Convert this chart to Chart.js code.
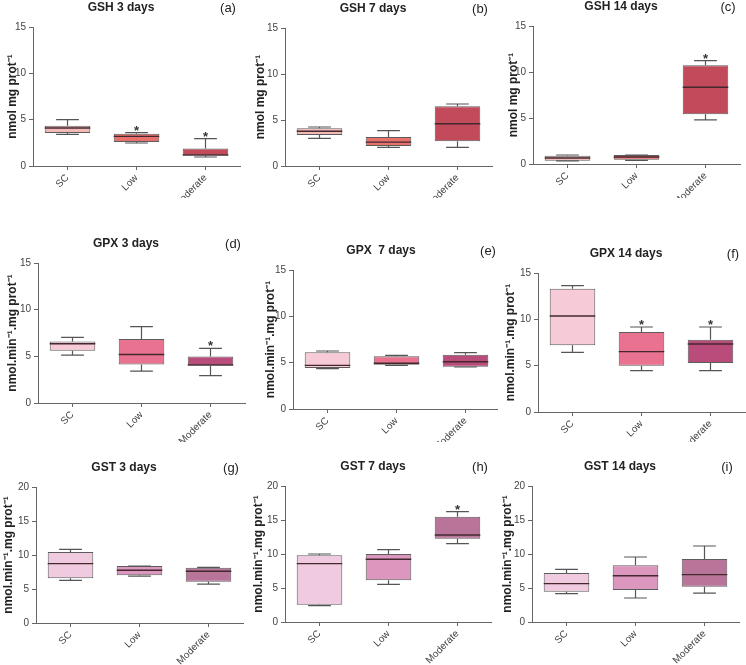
<!DOCTYPE html>
<html>
<head>
<meta charset="utf-8">
<script src="https://cdn.jsdelivr.net/npm/chart.js@4.4.1/dist/chart.umd.min.js"></script>
<style>
  body { margin: 0; background: #fff; width: 746px; height: 665px; overflow: hidden; position: relative; }
  canvas { position: absolute; background: #fff; }
</style>
</head>
<body>
<script>
const groups = ['SC', 'Low', 'Moderate'];

// GSH
const gsh3Min = [3.42, 2.48, 0.97];
const gsh3Q1  = [3.56, 2.59, 1.10];
const gsh3Med = [4.10, 3.20, 1.20];
const gsh3Q3  = [4.35, 3.49, 1.90];
const gsh3Max = [5.00, 3.60, 2.95];
const gsh3Sig = [false, true, true];

const gsh7Min = [3.00, 2.03, 2.03];
const gsh7Q1  = [3.37, 2.17, 2.68];
const gsh7Med = [3.77, 2.60, 4.60];
const gsh7Q3  = [4.09, 3.15, 6.49];
const gsh7Max = [4.24, 3.84, 6.74];
const gsh7Sig = [false, false, false];

const gsh14Min = [0.33, 0.40, 4.80];
const gsh14Q1  = [0.36, 0.47, 5.42];
const gsh14Med = [0.65, 0.76, 8.35];
const gsh14Q3  = [0.90, 0.98, 10.73];
const gsh14Max = [0.98, 0.98, 11.24];
const gsh14Sig = [false, false, true];

// GPX
const gpx3Min = [5.13, 3.41, 2.94];
const gpx3Q1  = [5.60, 4.13, 3.98];
const gpx3Med = [6.35, 5.20, 4.09];
const gpx3Q3  = [6.60, 6.85, 4.99];
const gpx3Max = [7.03, 8.18, 5.85];
const gpx3Sig = [false, false, true];

const gpx7Min = [4.35, 4.71, 4.53];
const gpx7Q1  = [4.42, 4.78, 4.57];
const gpx7Med = [4.71, 4.93, 5.10];
const gpx7Q3  = [6.12, 5.68, 5.86];
const gpx7Max = [6.26, 5.79, 6.08];
const gpx7Sig = [false, false, false];

const gpx14Min = [6.44, 4.46, 4.46];
const gpx14Q1  = [7.19, 5.00, 5.29];
const gpx14Med = [10.36, 6.51, 7.34];
const gpx14Q3  = [13.31, 8.63, 7.80];
const gpx14Max = [13.63, 9.17, 9.17];
const gpx14Sig = [false, true, true];

// GST
const gst3Min = [6.27, 6.90, 5.73];
const gst3Q1  = [6.57, 7.01, 6.08];
const gst3Med = [8.73, 7.75, 7.60];
const gst3Q3  = [10.44, 8.38, 8.14];
const gst3Max = [10.83, 8.38, 8.19];
const gst3Sig = [false, false, false];

const gst7Min = [2.40, 5.54, 11.52];
const gst7Q1  = [2.55, 6.13, 12.25];
const gst7Med = [8.58, 9.22, 12.79];
const gst7Q3  = [9.80, 10.00, 15.49];
const gst7Max = [10.00, 10.64, 16.22];
const gst7Sig = [false, false, true];

const gst14Min = [4.17, 3.53, 4.26];
const gst14Q1  = [4.46, 4.70, 5.20];
const gst14Med = [5.64, 6.81, 6.96];
const gst14Q3  = [7.20, 8.33, 9.26];
const gst14Max = [7.75, 9.56, 11.18];
const gst14Sig = [false, false, false];

const gshLabel = 'nmol mg prot\u207B\u00B9';
const enzLabel = 'nmol.min\u207B\u00B9.mg prot\u207B\u00B9';

const gshColors = ['#f4b9b6', '#e8716c', '#c24b5b'];
const gpxColors = ['#f6cad7', '#e8728f', '#b94c7b'];
const gstColors = ['#f0cbe0', '#dc97bf', '#b97599'];

const FONT = "'Liberation Sans', Arial, sans-serif";
Chart.defaults.font.family = FONT;

// whiskers, medians and significance stars, drawn through the y scale
const boxWhisker = {
  id: 'boxWhisker',
  afterDatasetsDraw(chart, args, opts) {
    const ctx = chart.ctx;
    const y = chart.scales.y;
    const bars = chart.getDatasetMeta(0).data;
    ctx.save();
    bars.forEach((bar, i) => {
      const x = bar.x, half = bar.width / 2;
      const yMin = y.getPixelForValue(opts.min[i]);
      const yQ1 = y.getPixelForValue(opts.q1[i]);
      const yMed = y.getPixelForValue(opts.med[i]);
      const yQ3 = y.getPixelForValue(opts.q3[i]);
      const yMax = y.getPixelForValue(opts.max[i]);
      ctx.strokeStyle = '#555';
      ctx.lineWidth = 1.2;
      ctx.beginPath();
      ctx.moveTo(x, yQ3); ctx.lineTo(x, yMax);
      ctx.moveTo(x - half / 2, yMax); ctx.lineTo(x + half / 2, yMax);
      ctx.moveTo(x, yQ1); ctx.lineTo(x, yMin);
      ctx.moveTo(x - half / 2, yMin); ctx.lineTo(x + half / 2, yMin);
      ctx.stroke();
      ctx.strokeStyle = '#43292f';
      ctx.lineWidth = 1.4;
      ctx.beginPath();
      ctx.moveTo(x - half, yMed); ctx.lineTo(x + half, yMed);
      ctx.stroke();
      if (opts.sig[i]) {
        ctx.fillStyle = '#333';
        ctx.font = 'bold 13px ' + FONT;
        ctx.textAlign = 'center';
        ctx.textBaseline = 'alphabetic';
        ctx.fillText('*', x, yMax + 2);
      }
    });
    ctx.restore();
  }
};

const panelTitle = {
  id: 'panelTitle',
  afterDraw(chart, args, opts) {
    const { ctx, chartArea } = chart;
    ctx.save();
    ctx.fillStyle = '#222';
    ctx.textAlign = 'center';
    ctx.textBaseline = 'middle';
    ctx.font = 'bold 12px ' + FONT;
    ctx.fillText(opts.text, chartArea.left + 88, chartArea.top - 19);
    ctx.font = '13px ' + FONT;
    ctx.fillText(opts.letter, chartArea.left + 195, chartArea.top - 19);
    ctx.restore();
  }
};

const panels = [
  { title: 'GSH 3 days', letter: '(a)', yLabel: gshLabel, yMax: 15, colors: gshColors,
    min: gsh3Min, q1: gsh3Q1, med: gsh3Med, q3: gsh3Q3, max: gsh3Max, sig: gsh3Sig,
    ax: 33, top: 27, bottom: 166, canvasTop: 0, labelPad: 12 },
  { title: 'GSH 7 days', letter: '(b)', yLabel: gshLabel, yMax: 15, colors: gshColors,
    min: gsh7Min, q1: gsh7Q1, med: gsh7Med, q3: gsh7Q3, max: gsh7Max, sig: gsh7Sig,
    ax: 285, top: 28, bottom: 166, canvasTop: 0, labelPad: 8 },
  { title: 'GSH 14 days', letter: '(c)', yLabel: gshLabel, yMax: 15, colors: gshColors,
    min: gsh14Min, q1: gsh14Q1, med: gsh14Med, q3: gsh14Q3, max: gsh14Max, sig: gsh14Sig,
    ax: 533, top: 26, bottom: 164, canvasTop: 0, labelPad: 13 },
  { title: 'GPX 3 days', letter: '(d)', yLabel: enzLabel, yMax: 15, colors: gpxColors,
    min: gpx3Min, q1: gpx3Q1, med: gpx3Med, q3: gpx3Q3, max: gpx3Max, sig: gpx3Sig,
    ax: 38, top: 263, bottom: 403, canvasTop: 198, labelPad: 7 },
  { title: 'GPX  7 days', letter: '(e)', yLabel: enzLabel, yMax: 15, colors: gpxColors,
    min: gpx7Min, q1: gpx7Q1, med: gpx7Med, q3: gpx7Q3, max: gpx7Max, sig: gpx7Sig,
    ax: 293, top: 270, bottom: 409, canvasTop: 198, labelPad: 10 },
  { title: 'GPX 14 days', letter: '(f)', yLabel: enzLabel, yMax: 15, colors: gpxColors,
    min: gpx14Min, q1: gpx14Q1, med: gpx14Med, q3: gpx14Q3, max: gpx14Max, sig: gpx14Sig,
    ax: 538, top: 273, bottom: 412, canvasTop: 198, labelPad: 5 },
  { title: 'GST 3 days', letter: '(g)', yLabel: enzLabel, yMax: 20, colors: gstColors,
    min: gst3Min, q1: gst3Q1, med: gst3Med, q3: gst3Q3, max: gst3Max, sig: gst3Sig,
    ax: 36, top: 487, bottom: 623, canvasTop: 442, labelPad: 5 },
  { title: 'GST 7 days', letter: '(h)', yLabel: enzLabel, yMax: 20, colors: gstColors,
    min: gst7Min, q1: gst7Q1, med: gst7Med, q3: gst7Q3, max: gst7Max, sig: gst7Sig,
    ax: 285, top: 486, bottom: 622, canvasTop: 442, labelPad: 6 },
  { title: 'GST 14 days', letter: '(i)', yLabel: enzLabel, yMax: 20, colors: gstColors,
    min: gst14Min, q1: gst14Q1, med: gst14Med, q3: gst14Q3, max: gst14Max, sig: gst14Sig,
    ax: 532, top: 486, bottom: 622, canvasTop: 442, labelPad: 8 }
];

const Y_AXIS_W = 40, X_AXIS_H = 46, PLOT_W = 207;

panels.forEach((p) => {
  const canvas = document.createElement('canvas');
  const padTop = p.top - p.canvasTop;
  canvas.width = Y_AXIS_W + PLOT_W + 1;
  canvas.height = padTop + (p.bottom - p.top) + X_AXIS_H;
  canvas.style.left = (p.ax - Y_AXIS_W) + 'px';
  canvas.style.top = p.canvasTop + 'px';
  document.body.appendChild(canvas);

  new Chart(canvas.getContext('2d'), {
    type: 'bar',
    data: {
      labels: groups,
      datasets: [{
        data: groups.map((g, i) => [p.q1[i], p.q3[i]]),
        backgroundColor: p.colors,
        borderColor: '#5c5c5c',
        borderWidth: 1,
        borderSkipped: false,
        barPercentage: 0.66,
        categoryPercentage: 1
      }]
    },
    options: {
      responsive: false,
      animation: false,
      layout: { padding: { left: 0, top: padTop, right: 1, bottom: 0 } },
      plugins: {
        legend: { display: false },
        tooltip: { enabled: false },
        boxWhisker: { min: p.min, q1: p.q1, med: p.med, q3: p.q3, max: p.max, sig: p.sig },
        panelTitle: { text: p.title, letter: p.letter }
      },
      scales: {
        x: {
          grid: { offset: false, drawOnChartArea: false, tickLength: 4, color: '#666' },
          border: { color: '#666', width: 1 },
          ticks: { minRotation: 45, maxRotation: 45, padding: 2, color: '#444', font: { size: 10 } },
          afterFit: (s) => { s.height = X_AXIS_H; }
        },
        y: {
          min: 0,
          max: p.yMax,
          ticks: { stepSize: 5, padding: 3, color: '#444', font: { size: 10 } },
          grid: { drawOnChartArea: false, tickLength: 4, color: '#666' },
          border: { color: '#666', width: 1 },
          title: {
            display: true,
            text: p.yLabel,
            color: '#222',
            font: { size: 12, weight: 'bold' },
            padding: { top: p.labelPad, bottom: 0 }
          },
          afterFit: (s) => { s.width = Y_AXIS_W; }
        }
      }
    },
    plugins: [boxWhisker, panelTitle]
  });
});
</script>
</body>
</html>
